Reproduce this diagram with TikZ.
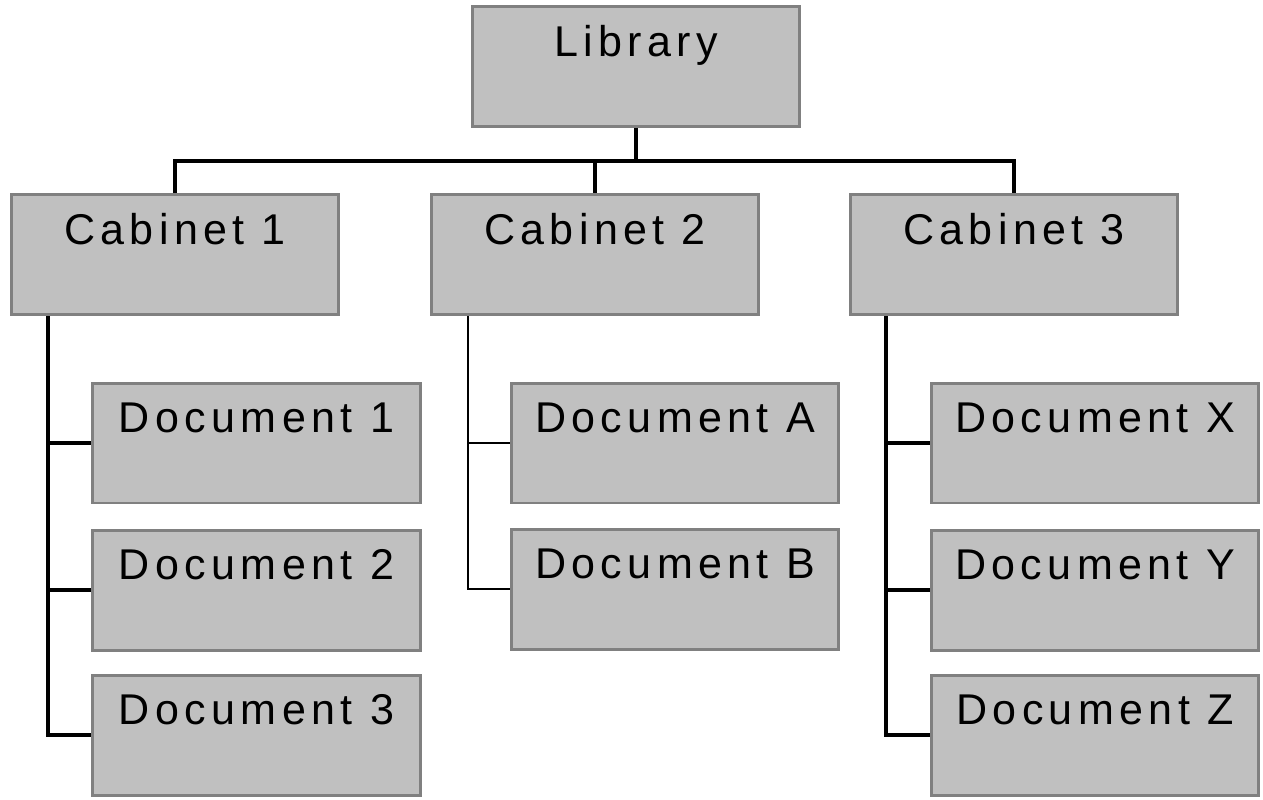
\documentclass[tikz,border=0pt]{standalone}
\usepackage{fontspec}
\setmainfont[LetterSpace=12.5]{Liberation Sans}
\definecolor{boxfill}{HTML}{C0C0C0}
\definecolor{boxedge}{HTML}{808080}
\tikzset{
  box/.style={draw=boxedge, fill=boxfill, line width=1.7pt, inner sep=0pt,
    minimum width=6.55cm, text height=0.99cm, text depth=1.41cm,
    font=\fontsize{24.5}{29}\selectfont},
  wire/.style={line width=2.1pt, black},
  thinwire/.style={line width=1.1pt, black}
}
\begin{document}
\begin{tikzpicture}[x=0.02cm, y=-0.02cm]
      \useasboundingbox (0,0) rectangle (1263,799);
      \draw
        (636,66.5) node[box] (lib){Library}
        (175,254.5) node[box] (cab1){Cabinet 1}
        (595,254.5) node[box] (cab2){Cabinet 2}
        (1014,254.5) node[box] (cab3){Cabinet 3}
        (256.5,443) node[box] (doc1){Document 1}
        (256.5,590) node[box] (doc2){Document 2}
        (256.5,735) node[box] (doc3){Document 3}
        (675,443) node[box] (docA){Document A}
        (675,589) node[box] (docB){Document B}
        (1095,443) node[box] (docX){Document X}
        (1095,590) node[box] (docY){Document Y}
        (1095,735) node[box] (docZ){Document Z};
      % bus under the library
      \coordinate (bus) at (636,161);
      % rails down the left of each cabinet
      \coordinate (rail1) at (48,316);
      \coordinate (rail2) at (468,316);
      \coordinate (rail3) at (886,316);
      \begin{scope}[wire]
        \draw (lib) to (bus);
        \draw (cab1.north) |- (bus) -| (cab3.north);
        \draw (bus -| cab2.north) to (cab2.north);
        \draw (rail1) |- (doc3.west);
        \draw (rail1 |- doc1.west) to (doc1.west);
        \draw (rail1 |- doc2.west) to (doc2.west);
        \draw (rail3) |- (docZ.west);
        \draw (rail3 |- docX.west) to (docX.west);
        \draw (rail3 |- docY.west) to (docY.west);
      \end{scope}
      \begin{scope}[thinwire]
        \draw (rail2) |- (docB.west);
        \draw (rail2 |- docA.west) to (docA.west);
      \end{scope}
    \end{tikzpicture}
\end{document}
